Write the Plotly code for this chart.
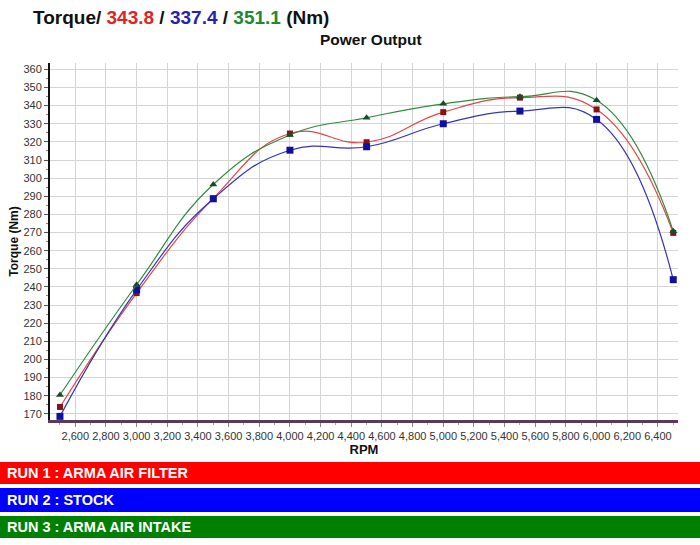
import plotly.graph_objects as go

rpm = [2500, 3000, 3500, 4000, 4500, 5000, 5500, 6000, 6500]
run1_filter = [173.8, 236.6, 288.8, 324.6, 319.8, 336.4, 344.4, 337.9, 269.8]
run2_stock = [168.6, 238.4, 288.6, 315.4, 317.3, 330.0, 337.0, 332.4, 244.0]
run3_intake = [180.4, 241.2, 296.5, 323.8, 333.3, 341.0, 344.9, 342.9, 270.7]
peaks = ["343.8", "337.4", "351.1"]
run_names = ["RUN 1 : ARMA AIR FILTER", "RUN 2 : STOCK", "RUN 3 : ARMA AIR INTAKE"]

FONT = "Liberation Sans, Arial, sans-serif"
NARROW = "Liberation Sans Narrow, Liberation Sans, Arial, sans-serif"

fig = go.Figure()
series = [
    (run1_filter, "#e04848", "#8b1010", "square", 6),
    (run2_stock, "#3434b4", "#1010a0", "square", 7),
    (run3_intake, "#2e8b3e", "#1a4a2a", "triangle-up", 7),
]
for vals, lc, mc, sym, ms in series:
    fig.add_trace(go.Scatter(
        x=rpm, y=vals, mode="lines+markers",
        line=dict(color=lc, width=1.2, shape="spline", smoothing=1.3),
        marker=dict(color=mc, symbol=sym, size=ms),
        showlegend=False,
    ))

L, R, T, B = 50, 22, 63, 125
W, H = 700, 545
pw = W - L - R
ph = H - T - B

fig.update_layout(
    width=W, height=H,
    margin=dict(l=L, r=R, t=T, b=B),
    paper_bgcolor="white", plot_bgcolor="white",
    font=dict(family=FONT, color="#222"),
)
fig.update_xaxes(
    range=[2435, 6531], tickvals=list(range(2600, 6401, 200)),
    tickformat=",d",
    tickfont=dict(family=NARROW, size=11, color="#333"),
    showgrid=True, gridcolor="#d4d4d4", gridwidth=1,
    showline=True, linecolor="#5a3a5a", linewidth=3,
    ticks="outside", ticklen=4, tickcolor="#888",
    minor=dict(dtick=100, ticks="outside", ticklen=2, tickcolor="#aaa", showgrid=False),
    zeroline=False,
    title=dict(text="<b>RPM</b>", font=dict(size=13, color="#111"), standoff=4),
)
fig.update_yaxes(
    range=[166.6, 363.5], tickvals=list(range(170, 361, 10)),
    tickfont=dict(family=NARROW, size=11, color="#333"),
    showgrid=True, gridcolor="#d4d4d4", gridwidth=1,
    showline=True, linecolor="#111", linewidth=2,
    ticks="outside", ticklen=4, tickcolor="#555",
    minor=dict(dtick=5, ticks="outside", ticklen=2, tickcolor="#888", showgrid=False),
    zeroline=False,
    title=dict(text="<b>Torque (Nm)</b>", font=dict(size=12, color="#111"), standoff=2),
)

def px_x(x):
    return (x - L) / pw

def px_y(y):
    return (H - B - y) / ph

title = ("<b>Torque/ <span style='color:#e02424'>%s</span> / "
         "<span style='color:#2424b0'>%s</span> / "
         "<span style='color:#228a2e'>%s</span> (Nm)</b>") % tuple(peaks)
fig.add_annotation(text=title, xref="paper", yref="paper",
                   x=px_x(31), y=px_y(17), xanchor="left", yanchor="middle",
                   showarrow=False, font=dict(size=19, color="#111"))
fig.add_annotation(text="<b>Power Output</b>", xref="paper", yref="paper",
                   x=px_x(318), y=px_y(39), xanchor="left", yanchor="middle",
                   showarrow=False, font=dict(size=15.5, color="#111"))

bars = [(462, 484, "#ff0000"), (488, 512, "#0000ff"), (516, 538, "#008000")]
for (y0, y1, col), name in zip(bars, run_names):
    fig.add_shape(type="rect", xref="paper", yref="paper",
                  x0=px_x(0), x1=px_x(W), y0=px_y(y1), y1=px_y(y0),
                  fillcolor=col, line=dict(width=0), layer="above")
    fig.add_annotation(text="<b>%s</b>" % name, xref="paper", yref="paper",
                       x=px_x(5), y=px_y((y0 + y1) / 2), xanchor="left", yanchor="middle",
                       showarrow=False, font=dict(family=NARROW, size=14.5, color="white"))

fig.write_html("out.html")
